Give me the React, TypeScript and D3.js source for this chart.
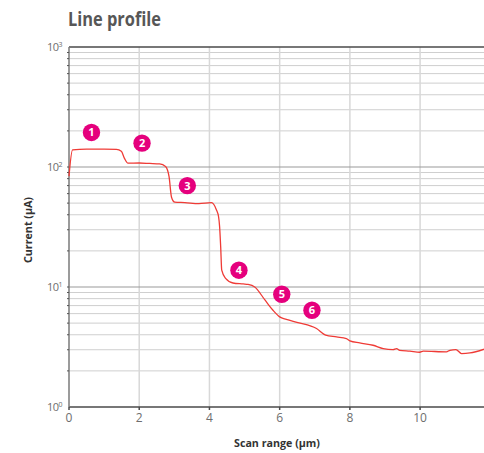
import React, { useEffect, useRef } from 'react';
import * as d3 from 'd3';

// line profile
const scanX = [0, 0.1, 0.5, 1.0, 1.35, 1.49, 1.58, 1.68, 2.0, 2.3, 2.58, 2.75, 2.85, 2.92, 3.01, 3.3, 3.7, 4.06, 4.2, 4.26, 4.29, 4.32, 4.35, 4.46, 4.67, 4.96, 5.1, 5.29, 5.58, 5.81, 6.0, 6.19, 6.52, 7.05, 7.31, 7.62, 7.9, 8.0, 8.28, 8.66, 8.95, 9.23, 9.33, 9.42, 9.71, 9.99, 10.09, 10.75, 10.85, 11.02, 11.18, 11.42, 11.82];
const current = [84, 139, 141, 141, 140, 135, 118, 107.6, 108, 107, 106, 101, 83, 56, 51, 50.5, 49.5, 50.4, 43.8, 38.5, 31.8, 21.7, 13.8, 11.8, 10.8, 10.6, 10.5, 10.0, 7.8, 6.4, 5.64, 5.37, 5.06, 4.51, 3.97, 3.84, 3.72, 3.56, 3.42, 3.27, 3.07, 3.01, 3.07, 2.97, 2.92, 2.86, 2.92, 2.88, 2.97, 3.01, 2.79, 2.82, 3.03];

const markerLabels = ['1', '2', '3', '4', '5', '6'];
const markerX = [0.64, 2.08, 3.37, 4.84, 6.06, 6.92];
const markerY = [194, 158, 70, 13.8, 8.7, 6.4];

const xTicks = [0, 2, 4, 6, 8, 10];
const yDecades = [0, 1, 2, 3];

const font = "'Open Sans', 'DejaVu Sans', sans-serif";

const App = () => {
  const svgRef = useRef<SVGSVGElement>(null);

  useEffect(() => {
    const width = 484;
    const height = 453;
    const margin = { top: 47, right: 0, bottom: 46, left: 69 };

    const svg = d3.select(svgRef.current);
    svg.selectAll('*').remove();
    svg.attr('width', width).attr('height', height);

    const x = d3.scaleLinear()
      .domain([0, 11.82])
      .range([margin.left, width - margin.right]);

    const y = d3.scaleLog()
      .domain([1, 1000])
      .range([height - margin.bottom, margin.top]);

    // minor horizontal grid
    const minors: number[] = [];
    yDecades.slice(0, -1).forEach(e => {
      for (let k = 2; k <= 9; k++) minors.push(k * Math.pow(10, e));
    });

    svg.append('g')
      .selectAll('line')
      .data(minors)
      .enter()
      .append('line')
      .attr('x1', x(0))
      .attr('x2', x(11.82))
      .attr('y1', d => y(d))
      .attr('y2', d => y(d))
      .attr('stroke', '#cfcfcf')
      .attr('stroke-width', 1);

    // vertical grid
    svg.append('g')
      .selectAll('line')
      .data(xTicks.filter(d => d > 0))
      .enter()
      .append('line')
      .attr('x1', d => x(d))
      .attr('x2', d => x(d))
      .attr('y1', y(1000))
      .attr('y2', y(1))
      .attr('stroke', '#d8d8d8')
      .attr('stroke-width', 1.5);

    // decade lines
    svg.append('g')
      .selectAll('line')
      .data([10, 100])
      .enter()
      .append('line')
      .attr('x1', x(0))
      .attr('x2', x(11.82))
      .attr('y1', d => y(d))
      .attr('y2', d => y(d))
      .attr('stroke', '#9a9a9a')
      .attr('stroke-width', 1.2);

    // top frame and bottom axis
    [1000, 1].forEach(v => {
      svg.append('line')
        .attr('x1', x(0))
        .attr('x2', x(11.82))
        .attr('y1', y(v))
        .attr('y2', y(v))
        .attr('stroke', '#4a4a4a')
        .attr('stroke-width', 1.5);
    });

    // left axis with small ticks
    svg.append('line')
      .attr('x1', x(0))
      .attr('x2', x(0))
      .attr('y1', y(1000))
      .attr('y2', y(1))
      .attr('stroke', '#7a7a7a')
      .attr('stroke-width', 1.5);

    svg.append('g')
      .selectAll('line')
      .data(minors.concat([10, 100]))
      .enter()
      .append('line')
      .attr('x1', x(0) - 2)
      .attr('x2', x(0))
      .attr('y1', d => y(d))
      .attr('y2', d => y(d))
      .attr('stroke', '#555')
      .attr('stroke-width', 1);

    svg.append('g')
      .selectAll('line')
      .data(xTicks)
      .enter()
      .append('line')
      .attr('x1', d => x(d))
      .attr('x2', d => x(d))
      .attr('y1', y(1))
      .attr('y2', y(1) + 3)
      .attr('stroke', '#4a4a4a')
      .attr('stroke-width', 1.5);

    // x tick labels
    svg.append('g')
      .selectAll('text')
      .data(xTicks)
      .enter()
      .append('text')
      .attr('x', d => x(d))
      .attr('y', y(1) + 15)
      .attr('text-anchor', 'middle')
      .style('font-family', font)
      .style('font-size', '12px')
      .attr('fill', '#6e6e6e')
      .text(d => d);

    // y tick labels 10^n
    const yl = svg.append('g')
      .selectAll('text')
      .data(yDecades)
      .enter()
      .append('text')
      .attr('x', x(0) - 7)
      .attr('y', d => y(Math.pow(10, d)) + 4)
      .attr('text-anchor', 'end')
      .style('font-family', font)
      .style('font-size', '11px')
      .style('letter-spacing', '-0.5px')
      .attr('fill', '#6e6e6e');
    yl.append('tspan').text('10');
    yl.append('tspan')
      .attr('dy', -4)
      .style('font-size', '7px')
      .text(d => d);

    // profile line
    const line = d3.line<number>()
      .x((d, i) => x(scanX[i]))
      .y(d => y(d))
      .curve(d3.curveMonotoneX);

    svg.append('path')
      .datum(current)
      .attr('d', line)
      .attr('fill', 'none')
      .attr('stroke', '#ef3b36')
      .attr('stroke-width', 1.3);

    // numbered markers
    const mk = svg.append('g')
      .selectAll('g')
      .data(markerLabels)
      .enter()
      .append('g')
      .attr('transform', (d, i) => `translate(${x(markerX[i])},${y(markerY[i])})`);

    mk.append('circle')
      .attr('r', 8.7)
      .attr('fill', '#e5007d');

    mk.append('text')
      .attr('text-anchor', 'middle')
      .attr('dy', '0.36em')
      .style('font-family', font)
      .style('font-size', '11px')
      .style('font-weight', 700)
      .attr('fill', '#fff')
      .text(d => d);

    // title and axis titles
    svg.append('text')
      .attr('x', 68)
      .attr('y', 26)
      .attr('textLength', 93)
      .attr('lengthAdjust', 'spacingAndGlyphs')
      .style('font-family', font)
      .style('font-size', '19px')
      .style('font-weight', 700)
      .attr('fill', '#575757')
      .text('Line profile');

    svg.append('text')
      .attr('x', 277)
      .attr('y', 447)
      .attr('text-anchor', 'middle')
      .attr('textLength', 86)
      .attr('lengthAdjust', 'spacingAndGlyphs')
      .style('font-family', font)
      .style('font-size', '11px')
      .style('font-weight', 700)
      .attr('fill', '#333')
      .text('Scan range (µm)');

    svg.append('text')
      .attr('transform', 'translate(32,230) rotate(-90)')
      .attr('text-anchor', 'middle')
      .attr('textLength', 66)
      .attr('lengthAdjust', 'spacingAndGlyphs')
      .style('font-family', font)
      .style('font-size', '11px')
      .style('font-weight', 700)
      .attr('fill', '#333')
      .text('Current (µA)');
  }, []);

  return (
    <div style={{ position: 'absolute', left: 0, top: 0 }}>
      <svg ref={svgRef} style={{ display: 'block' }} />
    </div>
  );
};

export default App;
